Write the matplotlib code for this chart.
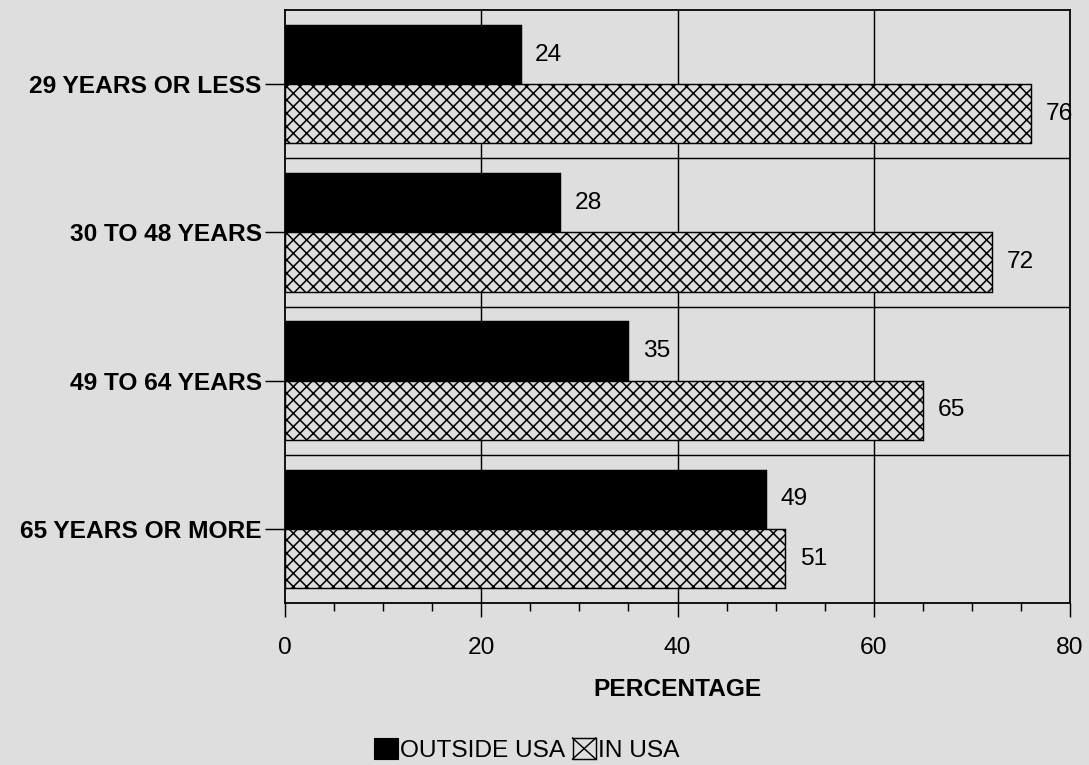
import numpy as np
import matplotlib
matplotlib.use("Agg")
import matplotlib.pyplot as plt
from matplotlib.patches import Patch, Rectangle
from matplotlib.lines import Line2D
from matplotlib.legend_handler import HandlerBase
from matplotlib.ticker import MultipleLocator

plt.rcParams['font.family'] = ['Liberation Sans', 'DejaVu Sans']
plt.rcParams['hatch.linewidth'] = 1.4

# data
age_groups = ['29 YEARS OR LESS', '30 TO 48 YEARS', '49 TO 64 YEARS', '65 YEARS OR MORE']
outside_usa = [24, 28, 35, 49]
in_usa = [76, 72, 65, 51]

bg = '#dedede'
dpi = 80  # lower dpi so the hatch spacing comes out like the scan
fs = 22


class CrossBoxHandler(HandlerBase):
    # legend key: a box with one X in it
    def create_artists(self, legend, orig_handle, xdescent, ydescent,
                       width, height, fontsize, trans):
        x0, y0 = -xdescent, -ydescent
        box = Rectangle((x0, y0), width, height, facecolor=bg,
                        edgecolor='black', linewidth=1.3, transform=trans)
        l1 = Line2D([x0, x0 + width], [y0, y0 + height], color='black',
                    linewidth=1.3, transform=trans)
        l2 = Line2D([x0, x0 + width], [y0 + height, y0], color='black',
                    linewidth=1.3, transform=trans)
        return [box, l1, l2]


fig = plt.figure(figsize=(1089 / dpi, 765 / dpi), dpi=dpi, facecolor=bg)
ax = fig.add_axes([0.2617, 0.2118, 0.7209, 0.775], facecolor=bg)

y = np.arange(len(age_groups))
h = 0.40

ax.barh(y - h / 2, outside_usa, height=h, color='black', edgecolor='black',
        linewidth=1.3, zorder=3)
ax.barh(y + h / 2, in_usa, height=h, color=bg, edgecolor='black',
        hatch='xx', linewidth=1.3, zorder=3)

# value labels next to bar ends
for i in range(len(age_groups)):
    ax.text(outside_usa[i] + 1.5, y[i] - h / 2, str(outside_usa[i]),
            va='center', ha='left', fontsize=fs, zorder=4)
    ax.text(in_usa[i] + 1.5, y[i] + h / 2, str(in_usa[i]),
            va='center', ha='left', fontsize=fs, zorder=4)

# grid: vertical at 20/40/60, horizontal lines between groups
for gx in [20, 40, 60]:
    ax.axvline(gx, color='black', linewidth=1.3, zorder=1)
for gy in y[:-1] + 0.5:
    ax.axhline(gy, color='black', linewidth=1.3, zorder=1)

ax.set_xlim(0, 80)
ax.set_ylim(len(age_groups) - 0.5, -0.5)

ax.set_yticks(y)
ax.set_yticklabels(age_groups, fontsize=fs, fontweight='bold')
ax.tick_params(axis='y', length=18, width=1.3, pad=3, direction='out')

ax.xaxis.set_major_locator(MultipleLocator(20))
ax.xaxis.set_minor_locator(MultipleLocator(5))
ax.tick_params(axis='x', which='major', length=13, width=1.3, pad=18,
               labelsize=fs, direction='out')
ax.tick_params(axis='x', which='minor', length=7, width=1.3, direction='out')

for s in ax.spines.values():
    s.set_linewidth(1.6)

ax.set_xlabel('PERCENTAGE', fontsize=fs, fontweight='bold', labelpad=17)

handles = [Patch(facecolor='black', edgecolor='black'), Patch()]
fig.legend(handles, ['OUTSIDE USA', 'IN USA'], loc='center',
           bbox_to_anchor=(527 / 1089, 1 - 750 / 765), ncol=2, frameon=False,
           fontsize=fs, handlelength=0.95, handleheight=0.95,
           handletextpad=0.1, columnspacing=0.3, borderpad=0,
           handler_map={handles[1]: CrossBoxHandler()})

fig.savefig('out.png', dpi=dpi, facecolor=bg)
